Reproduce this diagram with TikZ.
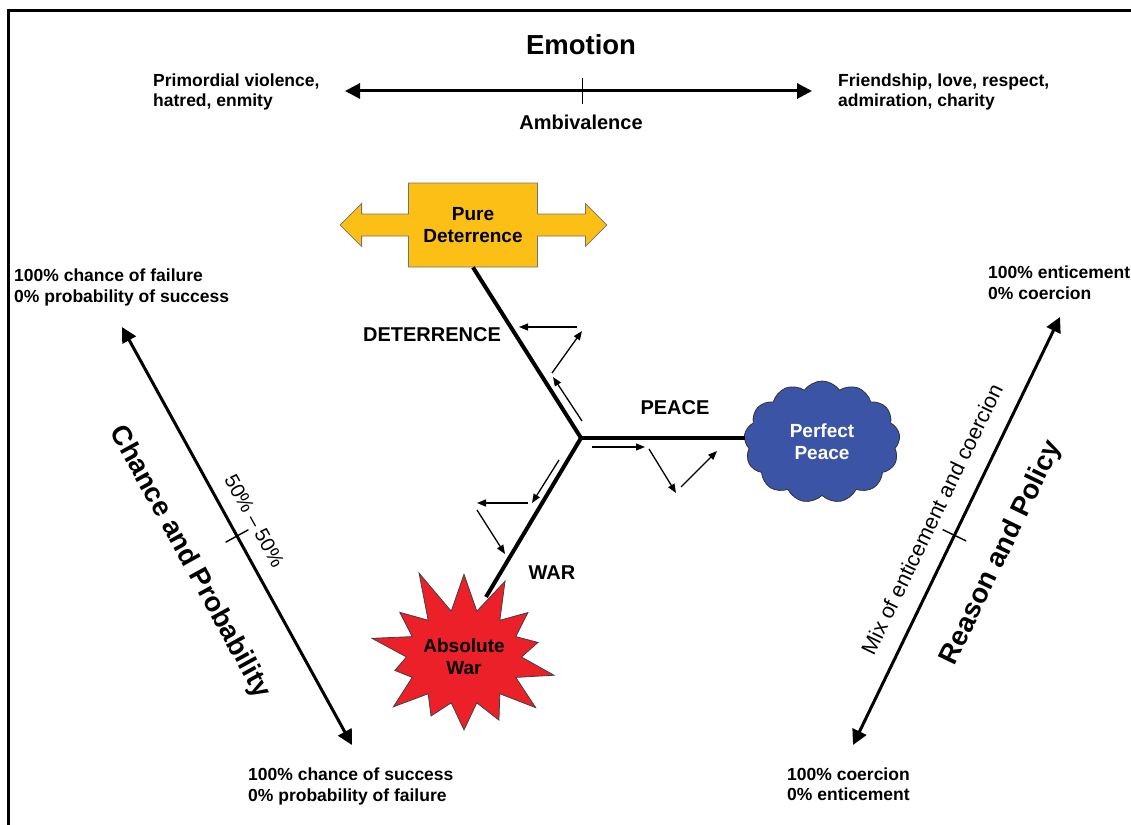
\documentclass[tikz,border=0pt]{standalone}
\usepackage{fontspec}
\setmainfont{Liberation Sans}
\usepackage{tikz}
\usetikzlibrary{shapes.arrows,shapes.symbols,arrows.meta,calc}

\definecolor{detyellow}{RGB}{251,191,22}
\definecolor{peaceblue}{RGB}{59,84,165}
\definecolor{warred}{RGB}{236,32,40}

\begin{document}
\begin{tikzpicture}[x=1pt, y=-1pt,
  lbl/.style={font=\bfseries\fontsize{17.5}{20.5}\selectfont, align=left,
              inner sep=0pt, anchor=west},
  axis/.style={font=\bfseries\fontsize{20}{24}\selectfont, inner sep=0pt},
  big/.style={font=\bfseries\fontsize{27.5}{32}\selectfont, inner sep=0pt},
  mid/.style={font=\fontsize{20}{24}\selectfont, inner sep=0pt},
  scalearrow/.style={line width=3pt,
              {Triangle[length=15pt,width=15pt]}-{Triangle[length=15pt,width=15pt]}},
  branch/.style={line width=4pt},
  flow/.style={line width=1.3pt, -{Triangle[length=9pt,width=7pt]}},
  tickmark/.style={line width=1.4pt},
  detbox/.style={arrow box, draw=black!55, line width=0.8pt, fill=detyellow,
              minimum width=129pt, minimum height=84pt, inner sep=0pt,
              arrow box arrows={west:68pt from border, east:69pt from border},
              arrow box shaft width=22pt, arrow box head extend=10.5pt,
              arrow box head indent=0pt, arrow box tip angle=90,
              align=center, font=\bfseries\fontsize{19}{22}\selectfont},
  peacecloud/.style={cloud, cloud puffs=13, cloud puff arc=110, aspect=1.3,
              draw=black!80, line width=0.8pt, fill=peaceblue, text=white,
              minimum width=156pt, minimum height=122pt, inner sep=0pt,
              align=center, font=\bfseries\fontsize{19}{22}\selectfont},
  warstar/.style={starburst, starburst points=14, starburst point height=48pt,
              random starburst=11, draw=black!75, line width=0.8pt, fill=warred,
              minimum width=198pt, minimum height=190pt, inner sep=0pt,
              align=center, font=\bfseries\fontsize{19}{22}\selectfont},
]
\useasboundingbox (0,0) rectangle (1131,824);
% Frame
\draw[line width=3pt] (8,840) -- (8,11) -- (1145,11);

% Emotion scale
\node[big] (EM) at (581,45) {Emotion};
\coordinate (emL) at (345,91);
\coordinate (emR) at (812,91);
\draw[scalearrow] (emL) -- (emR) coordinate[pos=0.508] (emMid);
\draw[tickmark] ($(emMid)+(0,-13)$) -- ($(emMid)+(0,13)$);
\node[axis] (AM) at (581,122) {Ambivalence};
\node[lbl] (EL) at (153,92) {Primordial violence,\\hatred, enmity};
\node[lbl] (ER) at (838,92) {Friendship, love, respect,\\admiration, charity};

% Entities
\node[detbox] (PD) at (473,225) {Pure\\Deterrence};
\node[peacecloud] (PP) at (822,442) {Perfect\\Peace};
\node[warstar] (AW) at (464,657) {Absolute\\War};
\coordinate (Y) at (581,438);
\coordinate (warEnd) at (486,597);

% Branches
\draw[branch] (Y) -- (PD.south);
\draw[branch] (Y) -- (Y -| PP.west);
\draw[branch] (Y) -- (warEnd);
\node[axis] (DT) at (432,335) {DETERRENCE};
\node[axis] (PC) at (675,408) {PEACE};
\node[axis] (WR) at (552,573) {WAR};

% Movement arrows
\draw[flow] ($(Y)+(-4,-111)$) -- ++(-58,0);
\draw[flow] ($(Y)+(-29,-65)$) -- ++(30,-42);
\draw[flow] ($(Y)+(1,-17)$) -- ++(-29,-44);
\draw[flow] ($(Y)+(11,9)$) -- ++(53,0);
\draw[flow] ($(Y)+(68,11)$) -- ++(27,44);
\draw[flow] ($(Y)+(100,49)$) -- ++(36,-36);
\draw[flow] ($(Y)+(-22,22)$) -- ++(-27,43);
\draw[flow] ($(Y)+(-53,65)$) -- ++(-51,0);
\draw[flow] ($(Y)+(-104,72)$) -- ++(28,44);

% Chance and Probability scale
\coordinate (cpTop) at (122,327);
\coordinate (cpBot) at (352,745);
\draw[scalearrow] (cpTop) -- (cpBot)
  coordinate[pos=0.5] (cpMid)
  node[pos=0.49, sloped, above=14pt, mid] (CF) {50\% – 50\%}
  node[pos=0.5, sloped, below=40pt, big] (CP) {Chance and Probability};
\draw[tickmark] ($(cpMid)!13pt!90:(cpBot)$) -- ($(cpMid)!13pt!-90:(cpBot)$);
\node[lbl] (CT) at (14,287.5) {100\% chance of failure\\0\% probability of success};
\node[lbl] (CB) at (248,786.5) {100\% chance of success\\0\% probability of failure};

% Reason and Policy scale
\coordinate (rpBot) at (853,745);
\coordinate (rpTop) at (1060,317);
\draw[scalearrow] (rpBot) -- (rpTop)
  coordinate[pos=0.49] (rpMid)
  node[pos=0.5, sloped, above=18pt, mid, font=\fontsize{21.5}{25}\selectfont] (RM) {Mix of enticement and coercion}
  node[pos=0.5, sloped, below=36pt, big] (RP) {Reason and Policy};
\draw[tickmark] ($(rpMid)!13pt!90:(rpTop)$) -- ($(rpMid)!13pt!-90:(rpTop)$);
\node[lbl] (RT) at (988,282.5) {100\% enticement\\0\% coercion};
\node[lbl] (RB) at (787,784) {100\% coercion\\0\% enticement};
\end{tikzpicture}
\end{document}
